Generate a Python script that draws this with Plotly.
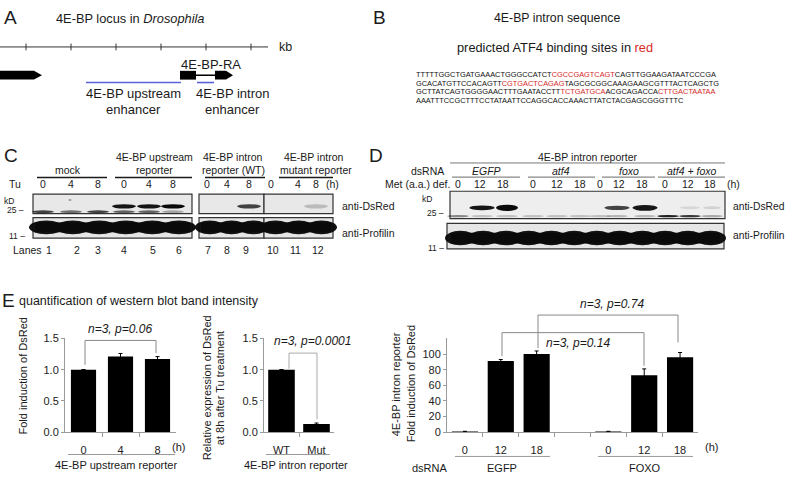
import plotly.graph_objects as go

W, H = 788, 480
FONT = "Arial, Liberation Sans, sans-serif"
RED = "#d42a2a"
BLUE = "#5b63d9"
AX = "#9a9a9a"

# ---------------- data ----------------
# Panel E, left: 4E-BP upstream reporter, fold induction after Tu treatment
up_times = ["0", "4", "8"]
up_fold = [1.00, 1.21, 1.17]
up_err = [0.0, 0.05, 0.04]

# Panel E, middle: 4E-BP intron reporter, relative expression at 8 h
intron_types = ["WT", "Mut"]
intron_rel = [1.00, 0.13]
intron_err = [0.0, 0.015]

# Panel E, right: intron reporter fold induction under Met deficiency
met_times = ["0", "12", "18"]
ds_groups = ["EGFP", "FOXO"]
egfp_fold = [0.6, 91, 100]
egfp_err = [0.4, 2, 4]
foxo_fold = [0.6, 73, 96]
foxo_err = [0.4, 8, 6]

# Panel C lane annotations and band intensities (0..1)
c_tu = ["0", "4", "8", "0", "4", "8", "0", "4", "8", "0", "4", "8"]
c_lanes = [str(i) for i in range(1, 13)]
c_dsred_upper = [0, 0, 0, 0.95, 0.95, 1.0, 0, 0, 0.75, 0, 0, 0.2]
c_dsred_lower = [0.75, 0.55, 0.75, 0.6, 0.6, 0.3, 0, 0, 0, 0, 0, 0]

# Panel D lane annotations and band intensities (0..1)
d_groups = ["EGFP", "atf4", "foxo", "atf4 + foxo"]
d_met = ["0", "12", "18"] * 4
d_dsred_upper = [0, 0.95, 1.0, 0, 0, 0, 0, 0.75, 0.95, 0, 0.1, 0.12]
d_dsred_lower = [0.45, 0.2, 0.2, 0.2, 0.2, 0.2, 0.2, 0.25, 0.25, 0.9, 0.8, 0.3]

seq_lines = [
    [("TTTTTGGCTGATGAAACTGGGCCATCT", 0), ("CGCCGAGTCAGT", 1), ("CAGTTGGAAGATAATCCCGA", 0)],
    [("GCACATGTTCCACAGTT", 0), ("CGTGACTCAGAG", 1), ("TAGCGCGGCAAAGAAGCGTTTACTCAGCTG", 0)],
    [("GCTTATCAGTGGGGAACTTTGAATACCTT", 0), ("TCTGATGCA", 1), ("ACGCAGACCA", 0), ("CTTGACTAATAA", 1)],
    [("AAATTTCCGCTTTCCTATAATTCCAGGCACCAAACTTATCTACGAGCGGGTTTC", 0)],
]

# ---------------- helpers ----------------
def X(p):
    return p / W


def Y(p):
    return 1 - p / H


shapes = []
ann = []


def L(x0, y0, x1, y1, color="#1a1a1a", w=1):
    shapes.append(dict(type="line", xref="paper", yref="paper", x0=X(x0), y0=Y(y0),
                       x1=X(x1), y1=Y(y1), line=dict(color=color, width=w)))


def R(x0, y0, x1, y1, fill, lc="#333", w=1.2):
    shapes.append(dict(type="rect", xref="paper", yref="paper", x0=X(x0), y0=Y(y0),
                       x1=X(x1), y1=Y(y1), fillcolor=fill,
                       line=dict(color=lc, width=w)))


def E(xc, yc, w, h, alpha, col="10,10,10"):
    if alpha <= 0:
        return
    shapes.append(dict(type="circle", xref="paper", yref="paper",
                       x0=X(xc - w / 2), y0=Y(yc + h / 2), x1=X(xc + w / 2), y1=Y(yc - h / 2),
                       fillcolor="rgba(%s,%.2f)" % (col, alpha), line=dict(width=0)))


def P(pts, fill="black"):
    d = "M " + " L ".join("%f,%f" % (X(a), Y(b)) for a, b in pts) + " Z"
    shapes.append(dict(type="path", xref="paper", yref="paper", path=d,
                       fillcolor=fill, line=dict(width=0)))


def T(x, y, s, size=10.5, xa="center", color="#1a1a1a", angle=0):
    ann.append(dict(x=X(x), y=Y(y), xref="paper", yref="paper", text=s, showarrow=False,
                    xanchor=xa, yanchor="middle", textangle=angle, borderpad=0,
                    font=dict(family=FONT, size=size, color=color)))


def profilin(a, b, nl, yc, h):
    # continuous dark band with lumps per lane
    R(a + 2, yc - h / 2 + 2, b - 2, yc + h / 2 - 2, "rgba(12,12,12,0.97)", lc="rgba(0,0,0,0)", w=0)
    step = (b - a) / nl
    for k in range(nl):
        E(a + step * (k + 0.5), yc, step + 8, h, 0.97)


# ---------------- Panel A ----------------
T(3, 12, "A", size=19, xa="left")
T(55, 13, "4E-BP locus in <i>Drosophila</i>", size=12.8, xa="left")
L(0, 42, 268, 42, color="#333")
for tx in [26, 71, 116, 161, 206, 251]:
    L(tx, 38.5, tx, 45.5, color="#333")
T(278, 42, "kb", size=12.5, xa="left")
P([(0, 66.5), (34, 66.5), (42, 71), (34, 75.5), (0, 75.5)])
R(180, 66.5, 196, 75.5, "black", lc="black", w=0)
L(196, 71, 215, 71, color="black", w=1.5)
P([(215, 66.5), (226, 66.5), (233, 71), (226, 75.5), (215, 75.5)])
L(86, 78.5, 181, 78.5, color=BLUE, w=1.6)
L(197, 78.5, 214, 78.5, color=BLUE, w=1.6)
T(211, 60, "4E-BP-RA", size=13)
T(133, 90, "4E-BP upstream", size=13)
T(133, 106, "enhancer", size=13)
T(232, 90, "4E-BP intron", size=13)
T(232, 106, "enhancer", size=13)

# ---------------- Panel B ----------------
T(372, 12, "B", size=19, xa="left")
T(557, 12, "4E-BP intron sequence", size=12.3)
T(555, 43, "predicted ATF4 binding sites in <span style='color:%s'>red</span>" % RED, size=12.8)
for i, line in enumerate(seq_lines):
    s = "".join(("<span style='color:%s'>%s</span>" % (RED, t)) if r else t for t, r in line)
    T(415, 70 + 9 * i, s, size=7.4, xa="left", color="#111")

# ---------------- Panel C ----------------
T(3, 153, "C", size=19, xa="left")
T(68, 168, "mock")
L(37, 176, 107, 176, w=1.5)
T(154, 155, "4E-BP upstream")
T(154, 168, "reporter")
L(115, 176, 192, 176, w=1.5)
T(233, 155, "4E-BP intron")
T(233, 168, "reporter (WT)")
L(205, 176, 265, 176, w=1.5)
T(314, 155, "4E-BP intron")
T(316, 168, "mutant reporter")
L(279, 176, 333, 176, w=1.5)
T(8, 183, "Tu", xa="left")
c_x = [43, 71, 98, 124, 149, 173, 207, 227, 249, 271, 298, 316]
for xx, s in zip(c_x, c_tu):
    T(xx, 183, s)
T(325, 183, "(h)", xa="left")
T(3, 200, "kD", size=8.5, xa="left")
T(6, 209, "25 –", size=8.5, xa="left")
T(8, 236, "11 –", size=8.5, xa="left")
for (a, b) in [(33, 192), (199, 264), (264, 333)]:
    R(a, 193, b, 213, "#e8e8e8")
    R(a, 217, b, 238, "#e6e6e6")
for xx, up, lo in zip(c_x, c_dsred_upper, c_dsred_lower):
    E(xx, 205.5, 24, 4.5, up)
    E(xx, 211, 22, 3, lo)
E(70, 199, 3, 2, 0.35)
for (a, b, n) in [(33, 192, 6), (199, 264, 3), (264, 333, 3)]:
    profilin(a, b, n, 227, 14)
T(341, 205, "anti-DsRed", xa="left")
T(341, 233, "anti-Profilin", xa="left")
T(43, 250, "Lanes", xa="right")
lane_x = [49, 77, 98, 124, 153, 179, 208, 227, 246, 273, 295, 318]
for xx, s in zip(lane_x, c_lanes):
    T(xx, 250, s)

# ---------------- Panel D ----------------
T(368, 153, "D", size=19, xa="left")
T(588, 155, "4E-BP intron reporter")
L(450, 161, 725, 161, color="#777", w=1)
T(445, 169, "dsRNA", xa="right")
d_gx = [486, 561, 629, 691]
d_gl = [(452, 520), (528, 595), (602, 655), (658, 725)]
for gx, (a, b), g in zip(d_gx, d_gl, d_groups):
    T(gx, 169, "<i>%s</i>" % g)
    L(a, 175.5, b, 175.5, color="#888", w=1.2)
T(451, 183, "Met (a.a.) def.", xa="right")
d_x = [458, 480, 503, 533, 557, 580, 600, 619, 642, 665, 688, 710]
for xx, s in zip(d_x, d_met):
    T(xx, 183, s)
T(733, 183, "(h)")
T(421, 198, "kD", size=8.5, xa="left")
T(426, 212, "25 –", size=8.5, xa="left")
T(427, 248, "11 –", size=8.5, xa="left")
R(450, 190, 725, 218, "#eeeeee")
R(447, 223, 724, 249, "#e6e6e6")
d_band_x = [458, 482, 507, 533, 557, 580, 600, 617, 645, 668, 690, 712]
d_band_w = [20, 25, 22, 20, 20, 20, 20, 25, 25, 22, 20, 18]
d_band_h = [4, 5, 6.5, 4, 4, 4, 4, 4.5, 6, 3, 3, 3]
for xx, ww, hh, up, lo in zip(d_band_x, d_band_w, d_band_h, d_dsred_upper, d_dsred_lower):
    E(xx, 207, ww, hh, up)
    E(xx, 215.5, 22, 2.5, lo)
profilin(449, 722, 12, 238, 15)
T(732, 206, "anti-DsRed", size=10.3, xa="left")
T(732, 235, "anti-Profilin", size=10.3, xa="left")

# ---------------- Panel E ----------------
T(1, 302, "E", size=19, xa="left")
T(18, 303, "quantification of western blot band intensity", size=12.5, xa="left")

ERR = dict(type="data", color="black", thickness=1, width=2)
fig = go.Figure()
fig.add_trace(go.Bar(x=list(range(len(up_times))), y=up_fold,
                     error_y=dict(ERR, array=up_err), marker=dict(color="black", line=dict(width=0)),
                     width=0.68, xaxis="x", yaxis="y", showlegend=False))
fig.add_trace(go.Bar(x=list(range(len(intron_types))), y=intron_rel,
                     error_y=dict(ERR, array=intron_err), marker=dict(color="black", line=dict(width=0)),
                     width=0.76, xaxis="x2", yaxis="y2", showlegend=False))
n = len(met_times)
fig.add_trace(go.Bar(x=list(range(n)), y=egfp_fold,
                     error_y=dict(ERR, array=egfp_err), marker=dict(color="black", line=dict(width=0)),
                     width=0.73, xaxis="x3", yaxis="y3", showlegend=False))
fig.add_trace(go.Bar(x=[i + n + 1 for i in range(n)], y=foxo_fold,
                     error_y=dict(ERR, array=foxo_err), marker=dict(color="black", line=dict(width=0)),
                     width=0.73, xaxis="x3", yaxis="y3", showlegend=False))

TF = dict(family=FONT, size=11, color="#222")
ydom = [Y(437), Y(341)]


def xax(x0, x1, ncat, tvals, ttext, anchor):
    return dict(domain=[X(x0), X(x1)], range=[-0.5, ncat - 0.5], anchor=anchor,
                tickmode="array", tickvals=tvals, ticktext=ttext,
                ticks="outside", ticklen=8, tickcolor="rgba(0,0,0,0)",
                minor=dict(tickmode="array", tickvals=[i + 0.5 for i in range(ncat - 1)],
                           ticks="outside", ticklen=4, tickcolor=AX, showgrid=False),
                showline=True, linecolor=AX, linewidth=1, showgrid=False, zeroline=False,
                tickfont=TF, fixedrange=True)


def yax(rng, tvals, anchor, fmt):
    return dict(domain=ydom, range=rng, anchor=anchor, tickmode="array", tickvals=tvals,
                tickformat=fmt, ticks="outside", ticklen=3, tickcolor=AX,
                showline=True, linecolor=AX, linewidth=1, showgrid=False, zeroline=False,
                tickfont=TF, fixedrange=True)


fig.update_layout(
    xaxis=xax(65, 176, len(up_times), list(range(len(up_times))), up_times, "y"),
    yaxis=yax([0, 1.5], [0, 0.5, 1.0, 1.5], "x", ".1f"),
    xaxis2=xax(264, 334, len(intron_types), list(range(len(intron_types))), intron_types, "y2"),
    yaxis2=yax([0, 1.5], [0, 0.5, 1.0, 1.5], "x2", ".1f"),
    xaxis3=xax(447, 698, 2 * n + 1, list(range(n)) + [i + n + 1 for i in range(n)],
               met_times + met_times, "y3"),
    yaxis3=yax([0, 120], [0, 20, 40, 60, 80, 100], "x3", "d"),
)

# E annotations: axis titles, group labels, brackets
T(22, 380, "Fold induction of DsRed", size=11, angle=-90)
T(171, 452, "(h)", size=11, xa="left", color="#222")
L(68, 460, 175, 460, color=AX)
T(116, 471, "4E-BP upstream reporter", size=11)
L(85, 343, 156, 343, color="#888")
L(85, 343, 85, 368, color="#888")
L(156, 343, 156, 356, color="#888")
T(120, 331, "<i>n=3, p=0.06</i>", size=12)

T(207, 392, "Relative expression of DsRed", size=11, angle=-90)
T(220, 392, "at 8h after Tu treatment", size=11, angle=-90)
L(266, 460, 330, 460, color=AX)
T(296, 471, "4E-BP intron reporter", size=11)
L(289, 356, 317, 356, color="#aaa")
L(289, 356, 289, 372, color="#aaa")
L(317, 356, 317, 424, color="#aaa")
T(312, 344, "<i>n=3, p=0.0001</i>", size=12)

T(396, 388, "4E-BP intron reporter", size=11, angle=-90)
T(411, 388, "Fold induction of DsRed", size=11, angle=-90)
T(704, 452, "(h)", size=11, xa="left", color="#222")
L(455, 462, 550, 462, color=AX)
L(598, 462, 693, 462, color=AX)
T(430, 474, "dsRNA", size=11)
T(502, 474, ds_groups[0], size=11)
T(645, 474, ds_groups[1], size=11)
L(502, 335, 644, 335, color="#888")
L(502, 335, 502, 359, color="#888")
L(644, 335, 644, 369, color="#888")
T(578, 346, "<i>n=3, p=0.14</i>", size=12)
L(538, 317, 678, 317, color="#888")
L(538, 317, 538, 351, color="#888")
L(678, 317, 678, 345, color="#888")
T(612, 306, "<i>n=3, p=0.74</i>", size=12)

fig.update_layout(
    width=W, height=H, margin=dict(l=0, r=0, t=0, b=0),
    paper_bgcolor="white", plot_bgcolor="rgba(0,0,0,0)",
    font=dict(family=FONT, size=11, color="#1a1a1a"),
    shapes=shapes, annotations=ann, showlegend=False, bargap=0.3,
)
fig.write_html("out.html", config={"displayModeBar": False},
               post_script="document.body.style.margin='0';document.body.style.overflow='hidden';")
